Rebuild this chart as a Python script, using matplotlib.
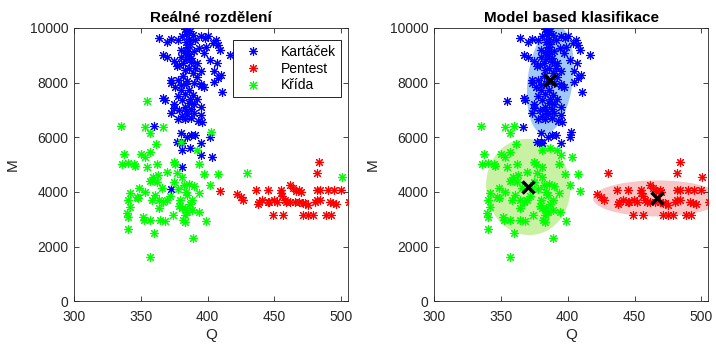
import numpy as np
import matplotlib
matplotlib.use("Agg")
import matplotlib.pyplot as plt

plt.rcParams['font.family'] = ['Liberation Sans', 'DejaVu Sans']

# data: (Q, M, class given by the model)
# 0 = Kartacek (blue), 1 = Pentest (red), 2 = Krida (green)
kartacek = [
    (364, 9650, 0), (370, 9480, 0), (373, 9600, 0), (383, 9950, 0), (385, 9900, 0),
    (387, 9870, 0), (384, 9780, 0), (381, 9700, 0), (389, 9750, 0), (395, 9700, 0),
    (400, 9700, 0), (398, 9620, 0), (406, 9570, 0), (408, 9380, 0), (409, 9200, 0),
    (404, 9450, 0), (391, 9550, 0), (386, 9600, 0), (378, 9550, 0), (367, 9020, 0),
    (370, 8930, 0), (380, 9200, 0), (385, 9320, 0), (388, 8900, 0), (392, 8710, 0),
    (397, 9080, 0), (402, 8840, 0), (407, 8710, 0), (417, 9020, 0), (383, 9100, 0),
    (386, 9050, 0), (390, 9150, 0), (394, 9250, 0), (399, 9300, 0), (384, 8850, 0),
    (380, 8950, 0), (375, 8800, 0), (379, 8650, 0), (377, 8590, 0), (383, 8470, 0),
    (395, 8410, 0), (405, 8410, 0), (410, 8290, 0), (408, 8160, 0), (405, 8040, 0),
    (373, 8100, 0), (373, 7980, 0), (386, 8550, 0), (389, 8350, 0), (392, 8200, 0),
    (382, 8250, 0), (378, 8100, 0), (385, 8050, 0), (390, 8000, 0), (395, 7950, 0),
    (380, 7900, 0), (376, 7850, 0), (367, 7430, 0), (368, 7370, 0), (411, 7650, 0),
    (380, 7740, 0), (386, 7740, 0), (395, 7860, 0), (397, 7850, 0), (383, 7600, 0),
    (389, 7550, 0), (392, 7400, 0), (378, 7500, 0), (381, 7350, 0), (386, 7250, 0),
    (375, 7200, 0), (390, 7200, 0), (395, 7100, 0), (379, 7000, 0), (384, 6950, 0),
    (375, 7060, 0), (373, 6880, 0), (381, 6760, 0), (385, 6850, 0), (390, 6900, 0),
    (395, 6820, 0), (396, 6570, 0), (393, 6600, 0), (388, 6700, 0), (378, 6680, 0),
    (383, 6650, 0), (384, 9500, 0), (387, 9400, 0), (382, 8700, 0), (388, 8750, 0),
    (384, 7950, 0), (387, 7400, 0), (383, 7100, 0), (388, 7050, 0), (385, 9150, 0),
    (391, 8550, 0), (360, 6420, 2), (380, 6150, 0), (385, 6020, 0), (388, 6080, 0),
    (391, 6100, 0), (377, 5840, 0), (381, 5800, 0), (395, 5790, 0), (402, 6000, 0),
    (387, 5600, 2), (381, 5530, 2), (395, 5350, 2), (403, 5290, 2), (381, 4920, 2),
    (373, 4090, 2),
]

pentest = [
    (409.5, 4040, 2), (421.8, 3920, 1), (424.8, 3830, 1), (426.8, 3700, 1),
    (436.6, 4070, 1), (438.6, 3640, 1), (437.5, 3560, 1), (441.1, 3700, 1),
    (444.9, 4070, 1), (444.9, 3640, 1), (449.9, 3700, 1), (448.6, 3150, 1),
    (454.9, 4070, 1), (454.9, 3950, 1), (456, 3850, 1), (456.4, 3150, 1),
    (457.6, 3700, 1), (461.4, 3640, 1), (461.4, 4250, 1), (463.9, 4130, 1),
    (466, 4050, 1), (468.7, 4070, 1), (470, 3980, 1), (465.2, 3640, 1),
    (468.7, 3640, 1), (471.2, 3580, 1), (473, 3580, 1), (471.2, 3150, 1),
    (475, 3150, 1), (478.7, 3150, 1), (475, 3520, 1), (480, 3640, 1),
    (482, 3700, 1), (483.8, 3700, 1), (481.8, 4070, 1), (484.3, 4070, 1),
    (483.7, 5080, 1), (482, 4700, 1), (490, 4070, 1), (494.5, 4070, 1),
    (499.5, 4070, 1), (491.5, 3640, 1), (494, 3580, 1), (496.2, 3560, 1),
    (488.7, 3150, 1), (492.5, 3150, 1), (505.8, 3640, 1), (452, 3640, 1),
    (446, 3640, 1), (459, 3640, 1),
]

krida = [
    (354.6, 7340, 0), (335.3, 6420, 2), (353.4, 6370, 2), (366.7, 6370, 0),
    (357, 6150, 2), (380, 5840, 0), (402.8, 6210, 0), (361.6, 5760, 2),
    (337.6, 5390, 2), (336.3, 5010, 2), (340.4, 5070, 2), (345, 5020, 2),
    (346, 4950, 2), (350, 5390, 2), (353.4, 5290, 2), (357, 5450, 2),
    (354.6, 4920, 2), (362, 5020, 2), (374.7, 5110, 2), (376, 5030, 2),
    (393.5, 5020, 2), (392.3, 5540, 2), (397.7, 4660, 2), (408, 4660, 2),
    (402, 4250, 2), (429.8, 4680, 1), (500.5, 4560, 1), (349, 4160, 2),
    (358.4, 4440, 2), (359.5, 4560, 2), (363, 4620, 2), (357, 4400, 2),
    (362, 4360, 2), (369.7, 4740, 2), (377, 4680, 2), (381, 4560, 2),
    (382.2, 4250, 2), (386, 4300, 2), (342, 3950, 2), (340.8, 3700, 2),
    (342, 3460, 2), (339.7, 3210, 2), (340.2, 3090, 2), (348.4, 3760, 2),
    (353.4, 4010, 2), (351.6, 3090, 2), (352.6, 2970, 2), (358.4, 3700, 2),
    (364, 3700, 2), (367, 3640, 2), (369.7, 3700, 2), (364, 3400, 2),
    (357, 2970, 2), (364.7, 2970, 2), (368.4, 2930, 2), (374, 3150, 2),
    (379.7, 3700, 2), (385, 3890, 2), (388.7, 3700, 2), (381, 3400, 2),
    (383.5, 3400, 2), (385, 3280, 2), (388.7, 3330, 2), (381.7, 2970, 2),
    (383, 2900, 2), (394, 3280, 2), (340.8, 2630, 2), (398.5, 2930, 2),
    (360, 2480, 2), (389, 2330, 2), (357, 1600, 2), (393.5, 3950, 2),
    (375, 4350, 2), (372, 3850, 2), (378, 4100, 2), (384, 4000, 2),
    (387, 3550, 2), (379, 3500, 2), (383, 3150, 2), (390, 4200, 2),
    (366, 4150, 2), (361, 3900, 2), (347, 3800, 2),
]

class_names = ["Kartáček", "Pentest", "Křída"]
class_colors = ["#0000ff", "#ff0000", "#00ff00"]
ellipse_colors = ["#9fc8f6", "#f7c6c6", "#c9f1a3"]

# model components: centre (Q, M), half-width Q, half-height M, correlation
centers = [(387, 8100), (467, 3760), (370.5, 4180)]
half_q = [17.5, 48, 31.5]
half_m = [1980, 660, 1760]
rho = [0.25, 0.0, -0.03]

pts_all = np.array(kartacek + pentest + krida, dtype=float)
Q_all, M_all = pts_all[:, 0], pts_all[:, 1]
pred_lab = pts_all[:, 2].astype(int)
true_lab = np.array([0] * len(kartacek) + [1] * len(pentest) + [2] * len(krida))

fig = plt.figure(figsize=(7.16, 3.45), dpi=100)
ax1 = fig.add_axes([0.103, 0.127, 0.383, 0.792])
ax2 = fig.add_axes([0.606, 0.127, 0.383, 0.792])

ast = (8, 2, 0)
for k in range(3):
    sel = true_lab == k
    ax1.plot(Q_all[sel], M_all[sel], linestyle='none', marker=ast, markersize=6.5,
             markeredgewidth=0.8, color=class_colors[k], label=class_names[k], zorder=3)

t = np.linspace(0, 2 * np.pi, 200)
for k in range(3):
    sq, sm, r = half_q[k], half_m[k], rho[k]
    cov = np.array([[sq * sq, r * sq * sm], [r * sq * sm, sm * sm]])
    L = np.linalg.cholesky(cov)
    e = L @ np.vstack([np.cos(t), np.sin(t)])
    ax2.fill(centers[k][0] + e[0], centers[k][1] + e[1], color=ellipse_colors[k],
             linewidth=0, zorder=1)
for k in range(3):
    sel = pred_lab == k
    ax2.plot(Q_all[sel], M_all[sel], linestyle='none', marker=ast, markersize=6.5,
             markeredgewidth=0.8, color=class_colors[k], zorder=3)
for k in range(3):
    ax2.plot(centers[k][0], centers[k][1], linestyle='none', marker='x', markersize=9,
             markeredgewidth=2.5, color='black', zorder=4)

gray = (0.15, 0.15, 0.15)
for ax, title in [(ax1, "Reálné rozdělení"), (ax2, "Model based klasifikace")]:
    ax.set_xlim(300, 505)
    ax.set_ylim(0, 10000)
    ax.set_xticks([300, 350, 400, 450, 500])
    ax.set_yticks([0, 2000, 4000, 6000, 8000, 10000])
    ax.set_xlabel("Q", fontsize=11, color=gray, labelpad=3)
    ax.set_ylabel("M", fontsize=11, color=gray, labelpad=7)
    ax.set_title(title, fontsize=11, fontweight='bold', pad=4)
    ax.tick_params(direction='in', length=3.5, width=0.6, top=True, right=True,
                   labelsize=10, colors=gray)
    ax.tick_params(axis='x', pad=6)
    ax.tick_params(axis='y', pad=4)
    for s in ax.spines.values():
        s.set_color(gray)
        s.set_linewidth(0.6)

leg = ax1.legend(loc='upper right', bbox_to_anchor=(0.974, 0.956), fontsize=10,
                 fancybox=False, framealpha=1, edgecolor='black', borderaxespad=0,
                 borderpad=0.35, handlelength=2.2, labelspacing=0.2, handletextpad=0.9)
leg.get_frame().set_linewidth(0.6)

fig.savefig("out.png", dpi=100)
